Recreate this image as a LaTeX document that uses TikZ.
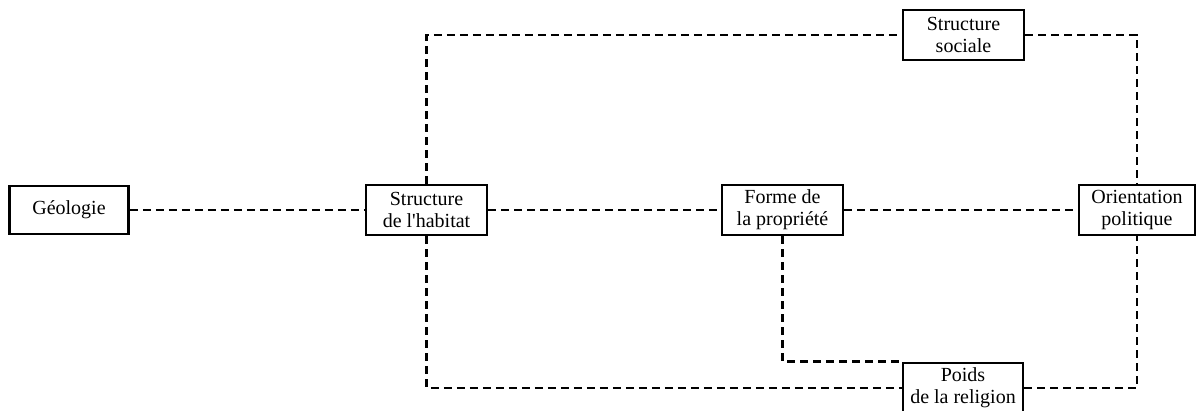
\documentclass[tikz,border=0pt]{standalone}
\usepackage{fontspec}
\setmainfont{Liberation Serif}
\begin{document}
\begin{tikzpicture}[x=1pt,y=-1pt,
  box/.style={draw, fill=white, line width=2.8pt, minimum width=121pt, minimum height=50pt, inner sep=0pt, align=center, font=\fontsize{20}{22}\selectfont},
  link/.style={line width=2.5pt, dash pattern=on 8pt off 5pt}]
\clip (0,0) rectangle (1196,411);
\useasboundingbox (0,0) rectangle (1196,411);
\node[box, minimum width=119pt, minimum height=48pt] (geo) at (69,210) {Géologie};
\node[box] (hab) at (426.5,210) {Structure\\de l\textquotesingle habitat};
\node[box] (forme) at (782.5,210) {Forme de\\la propriété};
\node[box, minimum width=116pt] (orient) at (1137,210) {Orientation\\politique};
\node[box] (soc) at (963.5,35) {Structure\\sociale};
\node[box, minimum width=120pt] (poids) at (963,388) {Poids\\de la religion};
\draw[link] (geo) -- (hab);
\draw[link] (hab) -- (forme);
\draw[link] (forme) -- (orient);
\draw[link] (hab.north) |- (soc.west);
\draw[link] (soc.east) -| (orient.north);
\draw[link] (hab.south) |- (poids.west);
\draw[link] (poids.east) -| (orient.south);
\draw[link] (forme.south) |- (poids.north west);
\end{tikzpicture}
\end{document}
